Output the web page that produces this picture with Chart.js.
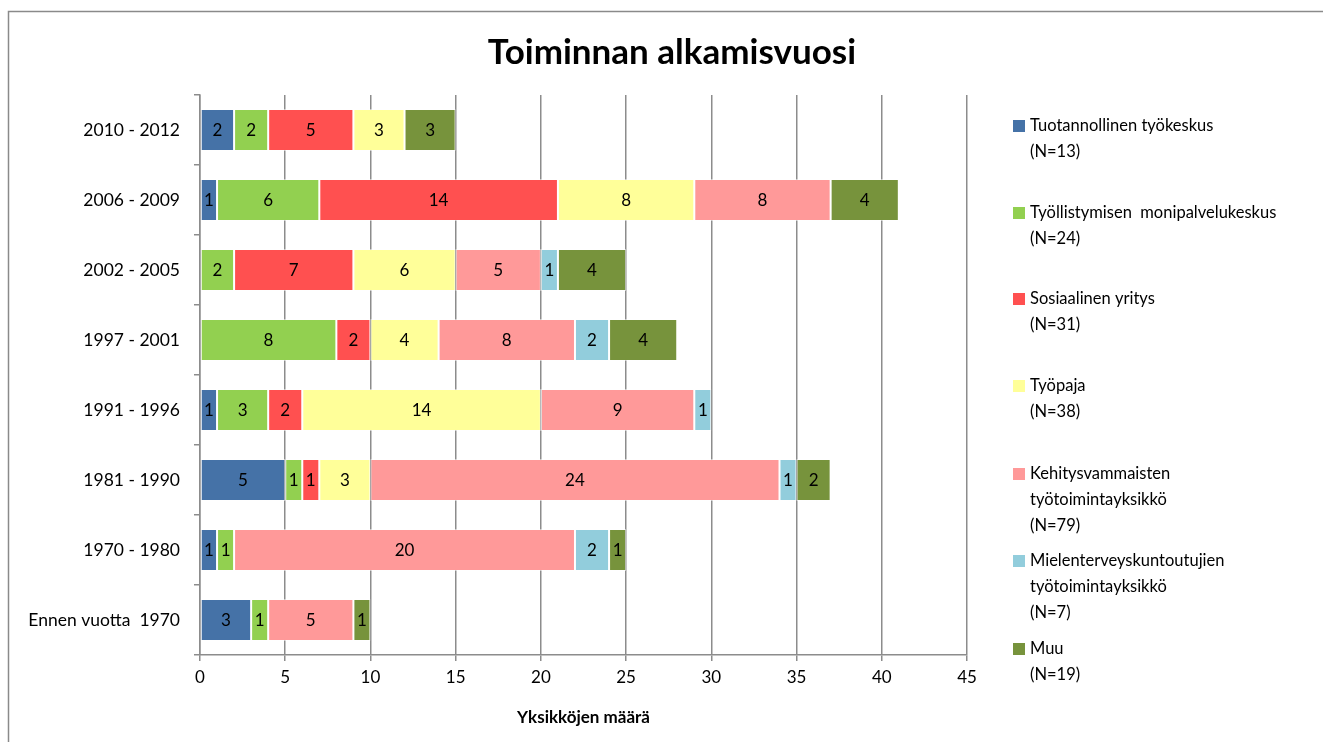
<!DOCTYPE html>
<html>
<head>
<meta charset="utf-8">
<script src="https://cdn.jsdelivr.net/npm/chart.js@4"></script>
<style>
  html, body { margin: 0; padding: 0; background: #fff; }
  #wrap { width: 1323px; height: 742px; }
</style>
</head>
<body>
<div id="wrap"><canvas id="startChart" width="1323" height="742"></canvas></div>
<script>
// categories, top to bottom
const periods = ["2010 - 2012", "2006 - 2009", "2002 - 2005", "1997 - 2001", "1991 - 1996", "1981 - 1990", "1970 - 1980", "Ennen vuotta  1970"];

// series values, one per period
const tuotannollinen = [2, 1, 0, 0, 1, 5, 1, 3];
const tyollistymisen = [2, 6, 2, 8, 3, 1, 1, 1];
const sosiaalinen = [5, 14, 7, 2, 2, 1, 0, 0];
const tyopaja = [3, 8, 6, 4, 14, 3, 0, 0];
const kehitysvammaisten = [0, 8, 5, 8, 9, 24, 20, 5];
const mielenterveys = [0, 0, 1, 2, 1, 1, 2, 0];
const muu = [3, 4, 4, 4, 0, 2, 1, 1];

// legend labels (lines) per series
const seriesNames = [
  ["Tuotannollinen työkeskus", "(N=13)"],
  ["Työllistymisen  monipalvelukeskus", "(N=24)"],
  ["Sosiaalinen yritys", "(N=31)"],
  ["Työpaja", "(N=38)"],
  ["Kehitysvammaisten", "työtoimintayksikkö", "(N=79)"],
  ["Mielenterveyskuntoutujien", "työtoimintayksikkö", "(N=7)"],
  ["Muu", "(N=19)"]
];
const xTicks = [0, 5, 10, 15, 20, 25, 30, 35, 40, 45];

const titleText = "Toiminnan alkamisvuosi";
const xTitle = "Yksikköjen määrä";

const colors = ["#4572A7", "#92D050", "#FF5050", "#FFFF99", "#FF9999", "#92CDDC", "#77933C"];
const values = [tuotannollinen, tyollistymisen, sosiaalinen, tyopaja, kehitysvammaisten, mielenterveys, muu];

const FONT = "Lato, 'Open Sans', sans-serif";

// draws the frame, the title, value labels and the right-hand legend
const decorPlugin = {
  id: "decor",
  beforeDraw(chart) {
    const c = chart.ctx;
    c.save();
    c.strokeStyle = "#8a8a8a";
    c.lineWidth = 1.5;
    c.beginPath();
    c.moveTo(8.5, 742);
    c.lineTo(8.5, 11.5);
    c.lineTo(1323, 11.5);
    c.stroke();
    c.restore();
  },
  afterDatasetsDraw(chart) {
    const c = chart.ctx;
    c.save();
    c.font = "17px " + FONT;
    c.fillStyle = "#000";
    c.textAlign = "center";
    c.textBaseline = "middle";
    chart.data.datasets.forEach((ds, i) => {
      const meta = chart.getDatasetMeta(i);
      meta.data.forEach((bar, j) => {
        const v = ds.data[j];
        if (!v) return;
        c.fillText(String(v), (bar.x + bar.base) / 2, bar.y + 1);
      });
    });
    c.restore();
  },
  afterDraw(chart) {
    const c = chart.ctx;
    c.save();
    // title
    c.font = "bold 35px " + FONT;
    c.fillStyle = "#000";
    c.textAlign = "center";
    c.textBaseline = "middle";
    c.fillText(titleText, 672, 53);

    // legend
    const itemY = [126, 213, 299, 386, 474, 561, 649];
    c.font = "16.5px " + FONT;
    c.textAlign = "left";
    chart.data.datasets.forEach((ds, i) => {
      const y = itemY[i];
      c.fillStyle = ds.backgroundColor;
      c.fillRect(1013, y - 6, 12, 12);
      c.fillStyle = "#000";
      ds.label.forEach((line, k) => {
        c.fillText(line, 1030, y + k * 26);
      });
    });
    c.restore();
  }
};

new Chart(document.getElementById("startChart"), {
  type: "bar",
  data: {
    labels: periods,
    datasets: values.map((v, i) => ({
      label: seriesNames[i],
      data: v,
      backgroundColor: colors[i],
      borderColor: "rgba(255,255,255,0.5)",
      borderWidth: 1,
      borderSkipped: false,
      barPercentage: 0.6,
      categoryPercentage: 1
    }))
  },
  options: {
    indexAxis: "y",
    responsive: false,
    animation: false,
    layout: { padding: { left: 10, right: 356, top: 95, bottom: 0 } },
    scales: {
      x: {
        stacked: true,
        min: 0,
        max: 45,
        afterBuildTicks(scale) {
          scale.ticks = xTicks.map(v => ({ value: v }));
        },
        afterFit(scale) { scale.height = 87; },
        grid: { color: "#8c8c8c", lineWidth: 1.5, tickLength: 6 },
        border: { color: "#8c8c8c", width: 1.5 },
        ticks: { color: "#000", font: { family: FONT, size: 17 }, padding: 6 },
        title: {
          display: true,
          text: xTitle,
          color: "#000",
          font: { family: FONT, size: 17, weight: "bold" },
          padding: { top: 0, bottom: 14 }
        }
      },
      y: {
        stacked: true,
        afterFit(scale) { scale.width = 190; },
        grid: { drawOnChartArea: false, color: "#8c8c8c", lineWidth: 1.5, tickLength: 6 },
        border: { color: "#8c8c8c", width: 1.5 },
        ticks: { color: "#000", font: { family: FONT, size: 17.5 }, padding: 14 }
      }
    },
    plugins: {
      legend: { display: false },
      tooltip: { enabled: false },
      title: { display: false }
    }
  },
  plugins: [decorPlugin]
});
</script>
</body>
</html>
